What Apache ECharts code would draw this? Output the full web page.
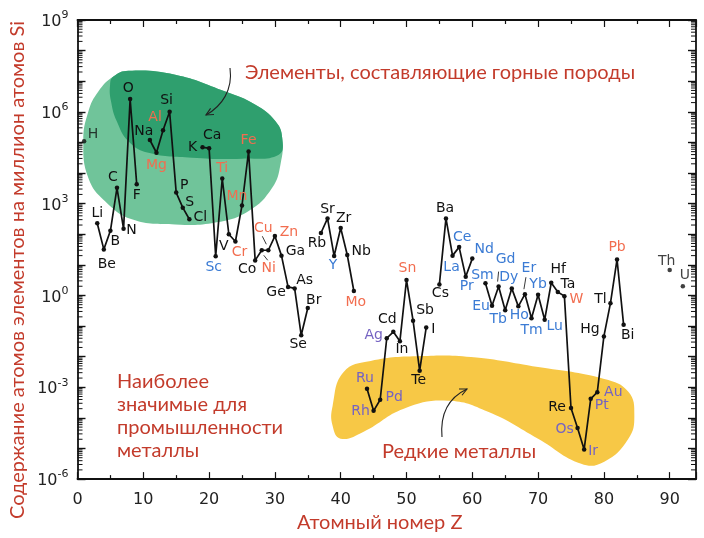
<!DOCTYPE html>
<html><head><meta charset="utf-8">
<script src="https://cdn.jsdelivr.net/npm/echarts@6/dist/echarts.min.js"></script>
<style>html,body{margin:0;padding:0;background:#fff}#c{width:704px;height:538px}</style>
</head><body><div id="c"></div>
<script>
// ---- DATA ----
const symbols = ['H','Li','Be','B','C','N','O','F','Na','Mg','Al','Si','P','S','Cl','K','Ca','Sc','Ti','V','Cr','Mn','Fe','Co','Ni','Cu','Zn','Ga','Ge','As','Se','Br','Rb','Sr','Y','Zr','Nb','Mo','Ru','Rh','Pd','Ag','Cd','In','Sn','Sb','Te','I','Cs','Ba','La','Ce','Pr','Nd','Sm','Eu','Gd','Tb','Dy','Ho','Er','Tm','Yb','Lu','Hf','Ta','W','Re','Os','Ir','Pt','Au','Hg','Tl','Pb','Bi','Th','U'];
const atomicNumbers = [1,3,4,5,6,7,8,9,11,12,13,14,15,16,17,19,20,21,22,23,24,25,26,27,28,29,30,31,32,33,34,35,37,38,39,40,41,42,44,45,46,47,48,49,50,51,52,53,55,56,57,58,59,60,62,63,64,65,66,67,68,69,70,71,72,73,74,75,76,77,78,79,80,81,82,83,90,92];
const abundances = [1.1e5,230,32,130,3300,150,2.6e6,4300,1.2e5,4.6e4,2.5e5,1e6,2300,740,310,6.9e4,6.5e4,19,6600,100,58,870,5.1e4,14,30,30,87,20,1.9,1.7,0.05,0.39,110,330,19.5,160,21,1.4,9e-4,1.7e-4,3.9e-4,0.04,0.065,0.032,3.2,0.15,3.5e-3,0.09,2.3,330,20,38,4.1,16,2.5,0.46,1.95,0.33,1.7,0.44,1.1,0.18,1.05,0.16,2.6,1.3,0.95,2.1e-4,4.7e-5,9.3e-6,4.2e-4,6.9e-4,0.046,0.56,15,0.11,6.8,2.0];
// isolated points (not joined by the line)
const isolated = ['H','Th','U'];
const industrialMetals = ['Mg','Al','Ti','Cr','Mn','Fe','Ni','Cu','Zn','Mo','Sn','W','Pb'];
const rareEarths = ['Sc','Y','La','Ce','Pr','Nd','Sm','Eu','Gd','Tb','Dy','Ho','Er','Tm','Yb','Lu'];
const preciousMetals = ['Ru','Rh','Pd','Ag','Os','Ir','Pt','Au'];
const xTickLabels = [0,10,20,30,40,50,60,70,80,90];
const yTickExponents = [-6,-3,0,3,6,9];

// ---- LABEL OFFSETS (px) ----
const labelOffset = {H:[9,-7],Li:[0,-10],Be:[3,15],B:[5,11],C:[-4,-10],N:[8,2],O:[-2,-11],F:[0,11],Na:[-6,-9],Mg:[0,13],Al:[-8,-13],Si:[-3,-11],P:[8,-7],S:[7,-5],Cl:[11,-2],K:[-10,0],Ca:[3,-13],Sc:[-2,11],Ti:[0,-10],V:[-5,12],Cr:[4,11],Mn:[-5,-9],Fe:[0,-11],Co:[-8,9],Ni:[7,18],Cu:[-5,-22],Zn:[14,-4],Ga:[14,-4],Ge:[-12,5],As:[10,-8],Se:[-3,9],Br:[6,-8],Rb:[-4,10],Sr:[0,-9],Y:[-1,9],Zr:[3,-10],Nb:[14,-4],Mo:[2,11],Ru:[-2,-10],Rh:[-13,1],Pd:[14,-2],Ag:[-13,-3],Cd:[-6,-12],In:[2,8],Sn:[1,-12],Sb:[12,-10],Te:[-1,10],I:[7,2],Cs:[1,9],Ba:[-1,-10],La:[-1,12],Ce:[3,-10],Pr:[1,10],Nd:[12,-9],Sm:[-3,-8],Eu:[-11,1],Gd:[7,-27],Tb:[-7,9],Dy:[-3,-11],Ho:[1,9],Er:[4,-26],Tm:[0,12],Yb:[0,-10],Lu:[10,7],Hf:[7,-13],Ta:[10,-8],W:[12,3],Re:[-14,-1],Os:[-13,1],Ir:[9,2],Pt:[11,7],Au:[16,0],Hg:[-14,-7],Tl:[-10,-4],Pb:[0,-12],Bi:[4,11],Th:[-3,-9],U:[2,-11]};
// small leader strokes from label towards point (px, relative to point)
const leaderLines = {Cu:[[-6,-14],[-2,-6]], Ni:[[2,5],[6,10]], Gd:[[0,-15],[-1,-5]], Er:[[1,-17],[-1,-5]]};

// ---- ANNOTATION SHAPES (data coords: Z, log10) ----
const lightGreenBlob = [[5.45,7.15],[7.74,7.34],[14.85,7.21],[22.47,6.66],[27.04,6.23],[30.09,5.69],[31.11,5.15],[30.85,4.28],[29.59,3.52],[26.02,2.76],[20.95,2.38],[14.85,2.32],[8.26,2.49],[4.19,3.08],[1.65,3.84],[0.88,5.04],[1.65,6.01],[3.17,6.66]];
const darkGreenBlob = [[4.95,6.88],[5.45,7.15],[7.74,7.34],[14.85,7.21],[22.47,6.66],[27.04,6.23],[30.09,5.69],[31.11,5.15],[30.59,4.60],[25.02,4.47],[17.40,4.50],[10.79,4.66],[7.74,5.04],[5.97,5.69],[5.10,6.34]];
const yellowBlob = [[38.77,-3.61],[40.45,-2.50],[44.56,-2.14],[52.18,-1.98],[59.8,-2.01],[70.0,-2.34],[80.06,-2.73],[83.72,-3.15],[84.63,-3.93],[83.72,-4.68],[80.06,-5.43],[76.55,-5.50],[70.0,-4.68],[62.39,-3.80],[56.29,-3.44],[49.59,-3.70],[43.49,-4.45],[39.99,-4.68],[38.77,-4.26]];
const blobs = [
  {pts: lightGreenBlob, color: '#70c49a'},
  {pts: darkGreenBlob, color: '#2f9f6e'},
  {pts: yellowBlob, color: '#f7c846'}
];

const RED = '#c33b2b';
function labelColor(s){
  if (industrialMetals.includes(s)) return '#f26d4f';
  if (rareEarths.includes(s)) return '#3b7bd4';
  if (preciousMetals.includes(s)) return '#7563c2';
  return '#111';
}

// Build line data with breaks at missing Z
const lineData = [];
const pointData = [];
const leaderData = [];
let prevZ = null;
symbols.forEach((s, i) => {
  const z = atomicNumbers[i];
  const v = [z, Math.log10(abundances[i])];
  const item = {name: s, value: v, label: {color: labelColor(s), offset: labelOffset[s] || [0,-10]}};
  if (leaderLines[s]) leaderData.push({name: s, value: v});
  if (isolated.includes(s)) { pointData.push(item); prevZ = null; return; }
  if (prevZ !== null && z - prevZ > 1) lineData.push({value: [prevZ + 1, '-']});
  lineData.push(item);
  prevZ = z;
});

// minor (log) ticks positions
const minorLogTicks = [];
for (let n = -6; n < 9; n++) for (let k = 2; k <= 9; k++) minorLogTicks.push([0, n + Math.log10(k)]);

const labelStyle = {show: true, formatter: '{b}', position: 'inside', fontFamily: 'DejaVu Sans', fontSize: 14, textBorderWidth: 0};

function arrow(x0,y0,c1x,c1y,c2x,c2y,x1,y1){
  const dx = x1 - c2x, dy = y1 - c2y, L = Math.hypot(dx,dy);
  const ux = dx/L, uy = dy/L, a = 0.45, h = 8;
  const w1 = [x1 - h*(ux*Math.cos(a) - uy*Math.sin(a)), y1 - h*(uy*Math.cos(a) + ux*Math.sin(a))];
  const w2 = [x1 - h*(ux*Math.cos(-a) - uy*Math.sin(-a)), y1 - h*(uy*Math.cos(-a) + ux*Math.sin(-a))];
  return [
    {type:'bezierCurve', shape:{x1:x0,y1:y0,cpx1:c1x,cpy1:c1y,cpx2:c2x,cpy2:c2y,x2:x1,y2:y1}, style:{stroke:'#222', lineWidth:1.1, fill:null}, z:20},
    {type:'polyline', shape:{points:[w1,[x1,y1],w2]}, style:{stroke:'#222', lineWidth:1.1, fill:null}, z:20}
  ];
}

const chart = echarts.init(document.getElementById('c'));
const axisLineStyle = {color: '#111', width: 1.8};
const tickStyle = {color: '#111', width: 1.2};
chart.setOption({
  animation: false,
  backgroundColor: '#fff',
  grid: {left: 77.5, right: 8, top: 20, bottom: 57.5, containLabel: false},
  xAxis: [{
    type: 'value', min: 0, max: 94, interval: 10, position: 'bottom',
    name: 'Атомный номер Z', nameLocation: 'middle', nameGap: 30,
    nameTextStyle: {color: RED, fontFamily: 'Lato', fontSize: 20, padding: [0, 14, 0, 0]},
    axisLine: {show: true, onZero: false, lineStyle: axisLineStyle},
    axisTick: {show: true, inside: true, length: 7, lineStyle: tickStyle},
    minorTick: {show: true, splitNumber: 2, length: 4, lineStyle: tickStyle},
    axisLabel: {showMaxLabel: false, margin: 13, color: '#222', fontFamily: 'DejaVu Sans', fontSize: 16,
      formatter: v => xTickLabels.includes(v) ? String(v) : ''},
    splitLine: {show: false}
  }, {
    type: 'value', min: 0, max: 94, interval: 10, position: 'top',
    axisLine: {show: true, onZero: false, lineStyle: axisLineStyle},
    axisTick: {show: true, inside: true, length: 7, lineStyle: tickStyle},
    minorTick: {show: true, splitNumber: 2, length: 4, lineStyle: tickStyle},
    axisLabel: {show: false}, splitLine: {show: false}
  }],
  yAxis: [{
    type: 'value', min: -6, max: 9, interval: 1, position: 'left',
    axisLine: {show: true, onZero: false, lineStyle: axisLineStyle},
    axisTick: {show: true, inside: true, length: 8, lineStyle: {color: '#111', width: 1.4}},
    axisLabel: {margin: 9, color: '#222', fontFamily: 'DejaVu Sans',
      formatter: v => yTickExponents.includes(v) ? '{b|10}{s|' + v + '}' : '',
      rich: {b: {fontSize: 16, fontFamily: 'DejaVu Sans', color: '#222', verticalAlign: 'bottom'},
             s: {fontSize: 11, fontFamily: 'DejaVu Sans', color: '#222', verticalAlign: 'bottom', padding: [0,0,9,0]}}},
    splitLine: {show: false}
  }, {
    type: 'value', min: -6, max: 9, interval: 1, position: 'right',
    axisLine: {show: true, onZero: false, lineStyle: axisLineStyle},
    axisTick: {show: true, inside: true, length: 8, lineStyle: {color: '#111', width: 1.4}},
    axisLabel: {show: false}, splitLine: {show: false}
  }],
  series: [{
    type: 'custom', silent: true, z: 1, clip: false,
    data: blobs.map(() => [0, 0]),
    renderItem: (params, api) => {
      const b = blobs[params.dataIndex];
      return {type: 'polygon', shape: {points: b.pts.map(p => api.coord(p)), smooth: 0.45}, style: {fill: b.color}};
    }
  }, {
    type: 'custom', silent: true, z: 5, clip: false,
    data: minorLogTicks,
    renderItem: (params, api) => {
      const y = api.coord([0, api.value(1)])[1];
      const cs = params.coordSys;
      return {type: 'group', children: [
        {type: 'line', shape: {x1: cs.x, y1: y, x2: cs.x + 5, y2: y}, style: {stroke: '#111', lineWidth: 1}},
        {type: 'line', shape: {x1: cs.x + cs.width - 5, y1: y, x2: cs.x + cs.width, y2: y}, style: {stroke: '#111', lineWidth: 1}}
      ]};
    }
  }, {
    type: 'custom', silent: true, z: 9, clip: false,
    data: leaderData,
    renderItem: (params, api) => {
      const p = api.coord([api.value(0), api.value(1)]);
      const seg = leaderLines[leaderData[params.dataIndex].name];
      return {type: 'line', shape: {x1: p[0] + seg[0][0], y1: p[1] + seg[0][1], x2: p[0] + seg[1][0], y2: p[1] + seg[1][1]},
              style: {stroke: '#222', lineWidth: 0.9}};
    }
  }, {
    type: 'line', z: 10, data: lineData, connectNulls: false,
    symbol: 'circle', symbolSize: 4.5, showAllSymbol: true,
    lineStyle: {color: '#111', width: 1.7},
    itemStyle: {color: '#111'},
    label: labelStyle, emphasis: {disabled: true}
  }, {
    type: 'scatter', z: 10, data: pointData,
    symbol: 'circle', symbolSize: 4.5, itemStyle: {color: '#111'},
    label: labelStyle, emphasis: {disabled: true}
  }],
  graphic: [
    {type: 'text', x: 18, y: 270, rotation: Math.PI / 2, z: 20,
     style: {text: 'Содержание атомов элементов на миллион атомов Si', fill: RED, font: '20px Lato', align: 'center', verticalAlign: 'middle'}},
    {type: 'text', left: 245, top: 63, z: 20, style: {text: 'Элементы, составляющие горные породы', fill: RED, font: '20px Lato'}},
    {type: 'text', left: 117, top: 370, z: 20, style: {text: 'Наиболее\nзначимые для\nпромышленности\nметаллы', fill: RED, font: '20px Lato', lineHeight: 23}},
    {type: 'text', left: 382, top: 442, z: 20, style: {text: 'Редкие металлы', fill: RED, font: '20px Lato'}},
    ...arrow(230,68, 233,90, 222,106, 206,115),
    ...arrow(442,437, 440,414, 448,398, 467,389)
  ]
});
</script></body></html>
